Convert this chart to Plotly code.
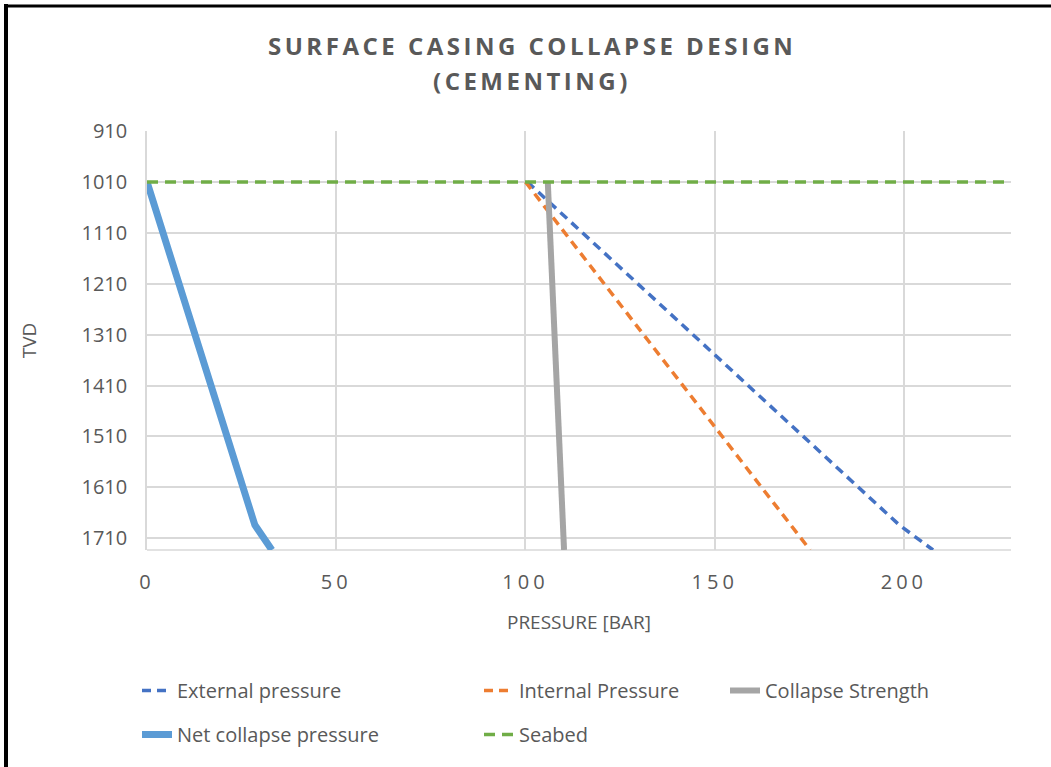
import plotly.graph_objects as go

# depth points (TVD) and pressures [bar]
tvd = [1010, 1684, 1733]
external_pressure = [100.5, 198.8, 207.7]
internal_pressure = [100.0, 170.3, 175.2]
net_collapse = [0.0, 28.5, 33.0]
strength_tvd = [1010, 1733]
collapse_strength = [105.9, 110.2]
seabed_x = [0, 228.3]
seabed_tvd = [1010, 1010]

y_ticks = [910, 1010, 1110, 1210, 1310, 1410, 1510, 1610, 1710]
x_ticks = [0, 50, 100, 150, 200]

title_lines = ["SURFACE CASING COLLAPSE DESIGN", "(CEMENTING)"]

GRAY_TXT = "#595959"
GRID = "#D9D9D9"
FONT = "Open Sans"

# plot-area geometry in pixels
L, T, W, H = 147, 131, 864, 419
FIG_W, FIG_H = 1051, 767


def px_x(px):
    return (px - L) / W


def px_y(py):
    return (T + H - py) / H


def spaced(s, px):
    return f'<span style="letter-spacing:{px}px">{s}</span>'


fig = go.Figure()
fig.add_trace(go.Scatter(
    x=external_pressure, y=tvd, mode="lines", name="External pressure",
    line=dict(color="#4472C4", width=3.5, dash="9px,6px"),
    legend="legend", legendgroup="a",
))
fig.add_trace(go.Scatter(
    x=internal_pressure, y=tvd, mode="lines", name="Internal Pressure",
    line=dict(color="#ED7D31", width=3.5, dash="9px,6px"),
    legend="legend2", legendgroup="b",
))
fig.add_trace(go.Scatter(
    x=collapse_strength, y=strength_tvd, mode="lines", name="Collapse Strength",
    line=dict(color="#A5A5A5", width=6),
    legend="legend3", legendgroup="c",
))
fig.add_trace(go.Scatter(
    x=net_collapse, y=tvd, mode="lines", name="Net collapse pressure",
    line=dict(color="#5B9BD5", width=7),
    legend="legend", legendgroup="d",
))
fig.add_trace(go.Scatter(
    x=seabed_x, y=seabed_tvd, mode="lines", name="Seabed",
    line=dict(color="#70AD47", width=3.5, dash="11px,7px"),
    legend="legend2", legendgroup="e",
))

legend_common = dict(
    orientation="v", yanchor="top", y=px_y(671), xanchor="left",
    font=dict(family=FONT, size=20, color=GRAY_TXT),
    tracegroupgap=15, bgcolor="rgba(0,0,0,0)",
)

# frame (top and left edges of the cropped source)
fig.add_shape(type="line", xref="paper", yref="paper",
              x0=px_x(4), x1=px_x(FIG_W + 2), y0=px_y(6), y1=px_y(6),
              line=dict(color="black", width=3))
fig.add_shape(type="line", xref="paper", yref="paper",
              x0=px_x(6), x1=px_x(6), y0=px_y(4), y1=px_y(FIG_H + 2),
              line=dict(color="black", width=4))
# bottom axis line
fig.add_shape(type="line", xref="paper", yref="paper", x0=0, x1=1, y0=0, y1=0,
              line=dict(color=GRID, width=1.5), layer="below")

for text, py in zip(title_lines, [46, 81]):
    fig.add_annotation(
        text=spaced(text, 3.5), xref="paper", yref="paper",
        x=px_x(532), y=px_y(py), xanchor="center", yanchor="middle",
        showarrow=False,
        font=dict(family=FONT, size=24, color=GRAY_TXT, weight="bold"),
    )

fig.update_layout(
    width=FIG_W, height=FIG_H,
    paper_bgcolor="white", plot_bgcolor="white",
    margin=dict(l=L, r=FIG_W - L - W, t=T, b=FIG_H - T - H),
    xaxis=dict(
        range=[0, 228.3], tickvals=x_ticks,
        ticktext=[spaced(str(v), 4) for v in x_ticks],
        showgrid=True, gridcolor=GRID, gridwidth=1.5,
        zeroline=False, showline=False, ticks="",
        ticklabelstandoff=18,
        tickfont=dict(family=FONT, size=20, color=GRAY_TXT),
        title=dict(text="PRESSURE [BAR]", standoff=21,
                   font=dict(family=FONT, size=19, color=GRAY_TXT)),
    ),
    yaxis=dict(
        range=[1733, 910], tickvals=y_ticks,
        showgrid=True, gridcolor=GRID, gridwidth=1.5,
        zeroline=False, showline=True, linecolor=GRID, linewidth=1.5,
        ticks="", ticklabelstandoff=14,
        tickfont=dict(family=FONT, size=20, color=GRAY_TXT),
        title=dict(text="TVD", standoff=40,
                   font=dict(family=FONT, size=19, color=GRAY_TXT)),
    ),
    legend=dict(x=px_x(182 - 45), **legend_common),
    legend2=dict(x=px_x(524 - 45), **legend_common),
    legend3=dict(x=px_x(770 - 45), **legend_common),
)

fig.write_html("out.html", config={"displayModeBar": False},
               post_script="document.body.style.margin='0';")
